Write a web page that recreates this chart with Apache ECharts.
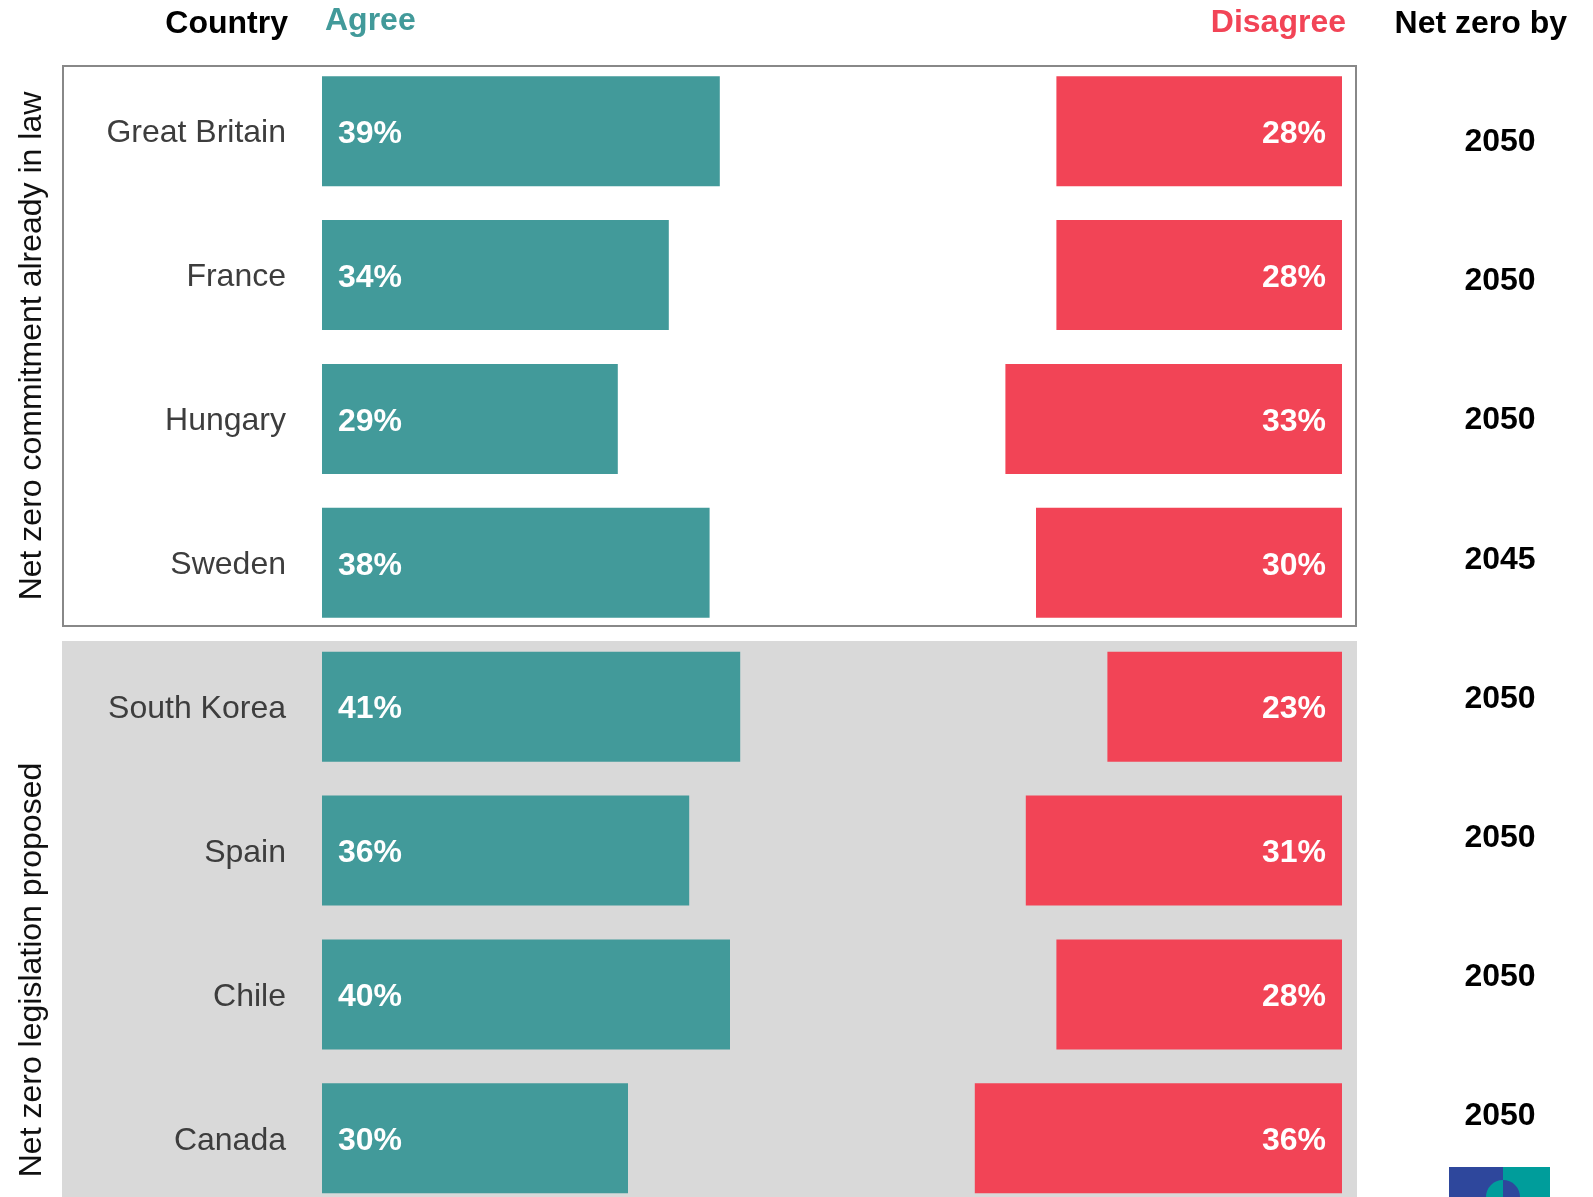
<!DOCTYPE html>
<html>
<head>
<meta charset="utf-8">
<script src="https://cdn.jsdelivr.net/npm/echarts@6/dist/echarts.min.js"></script>
<style>
html,body{margin:0;padding:0;background:#fff;}
#chart{width:1593px;height:1197px;}
</style>
</head>
<body>
<div id="chart"></div>
<script>
const countries = ['Great Britain','France','Hungary','Sweden','South Korea','Spain','Chile','Canada'];
const agree = [39,34,29,38,41,36,40,30];
const disagree = [28,28,33,30,23,31,28,36];
const netZeroBy = ['2050','2050','2050','2045','2050','2050','2050','2050'];
const groupLabels = ['Net zero commitment already in law','Net zero legislation proposed'];

const TEAL = '#429a9a';
const RED = '#f24456';
const FONT = '"Liberation Sans", Arial, Helvetica, sans-serif';
const FS = 32;

const gap = agree.map((a,i) => 100 - a - disagree[i]);

const chart = echarts.init(document.getElementById('chart'));
chart.setOption({
  animation: false,
  backgroundColor: '#fff',
  textStyle: {fontFamily: FONT},
  grid: [
    {left: 322, width: 1020, top: 59.2, height: 1151, outerBoundsMode: 'none', containLabel: false},
    {left: 1500, width: 10, top: 72.5, height: 1113.6, outerBoundsMode: 'none', containLabel: false}
  ],
  xAxis: [
    {type: 'value', min: 0, max: 100, show: false, gridIndex: 0},
    {type: 'value', min: 0, max: 1, show: false, gridIndex: 1}
  ],
  yAxis: [
    {
      type: 'category', data: countries, inverse: true, gridIndex: 0,
      axisLine: {show: false}, axisTick: {show: false}, splitLine: {show: false},
      axisLabel: {
        margin: 36,
        formatter: '{v|{value}}',
        rich: {v: {fontSize: FS, color: '#3d3d3d', fontFamily: FONT, padding: [5, 0, 0, 0]}}
      }
    },
    {
      type: 'category', data: netZeroBy, inverse: true, gridIndex: 1,
      axisLine: {show: false}, axisTick: {show: false}, splitLine: {show: false},
      axisLabel: {fontSize: FS, color: '#000', fontWeight: 'bold', margin: 0, align: 'center', fontFamily: FONT}
    }
  ],
  graphic: [
    {type: 'rect', z: -10, shape: {x: 63, y: 66, width: 1293, height: 560},
     style: {fill: '#fff', stroke: '#888', lineWidth: 2}},
    {type: 'rect', z: -10, shape: {x: 62, y: 641, width: 1295, height: 570},
     style: {fill: '#d9d9d9'}},
    {type: 'text', style: {text: 'Country', x: 288, y: 24, textAlign: 'right', textVerticalAlign: 'middle',
      font: 'bold ' + FS + 'px ' + FONT, fill: '#000'}},
    {type: 'text', style: {text: 'Agree', x: 325, y: 21, textAlign: 'left', textVerticalAlign: 'middle',
      font: 'bold ' + FS + 'px ' + FONT, fill: TEAL}},
    {type: 'text', style: {text: 'Disagree', x: 1346, y: 23, textAlign: 'right', textVerticalAlign: 'middle',
      font: 'bold ' + FS + 'px ' + FONT, fill: RED}},
    {type: 'text', style: {text: 'Net zero by', x: 1567, y: 24, textAlign: 'right', textVerticalAlign: 'middle',
      font: 'bold ' + FS + 'px ' + FONT, fill: '#000'}},
    {type: 'text', x: 32, y: 346, rotation: Math.PI / 2,
     style: {text: groupLabels[0], x: 0, y: 0, textAlign: 'center', textVerticalAlign: 'middle',
      font: FS + 'px ' + FONT, fill: '#111'}},
    {type: 'text', x: 32, y: 970, rotation: Math.PI / 2,
     style: {text: groupLabels[1], x: 0, y: 0, textAlign: 'center', textVerticalAlign: 'middle',
      font: FS + 'px ' + FONT, fill: '#111'}},
    {type: 'rect', shape: {x: 1449, y: 1167, width: 54, height: 30}, style: {fill: '#2e479c'}},
    {type: 'rect', shape: {x: 1503, y: 1167, width: 47, height: 30}, style: {fill: '#009d9b'}},
    {type: 'sector', shape: {cx: 1503, cy: 1197, r0: 0, r: 17, startAngle: Math.PI / 2, endAngle: Math.PI * 1.5},
     style: {fill: '#009d9b'}},
    {type: 'sector', shape: {cx: 1503, cy: 1197, r0: 0, r: 17, startAngle: -Math.PI / 2, endAngle: Math.PI / 2},
     style: {fill: '#2e479c'}}
  ],
  series: [
    {
      name: 'Agree', type: 'bar', stack: 'total', data: agree, barWidth: 110,
      xAxisIndex: 0, yAxisIndex: 0,
      itemStyle: {color: TEAL},
      label: {show: true, position: 'insideLeft', distance: 16, offset: [0, 3], formatter: '{c}%',
        color: '#fff', fontSize: FS, fontWeight: 'bold', fontFamily: FONT}
    },
    {
      name: 'gap', type: 'bar', stack: 'total', data: gap, barWidth: 110,
      xAxisIndex: 0, yAxisIndex: 0,
      itemStyle: {color: 'rgba(0,0,0,0)'}, silent: true
    },
    {
      name: 'Disagree', type: 'bar', stack: 'total', data: disagree, barWidth: 110,
      xAxisIndex: 0, yAxisIndex: 0,
      itemStyle: {color: RED},
      label: {show: true, position: 'insideRight', distance: 16, offset: [0, 3], formatter: '{c}%',
        color: '#fff', fontSize: FS, fontWeight: 'bold', fontFamily: FONT}
    },
    {
      name: 'years', type: 'scatter', data: netZeroBy.map(() => 0), symbolSize: 0,
      xAxisIndex: 1, yAxisIndex: 1, silent: true
    }
  ]
});
</script>
</body>
</html>
